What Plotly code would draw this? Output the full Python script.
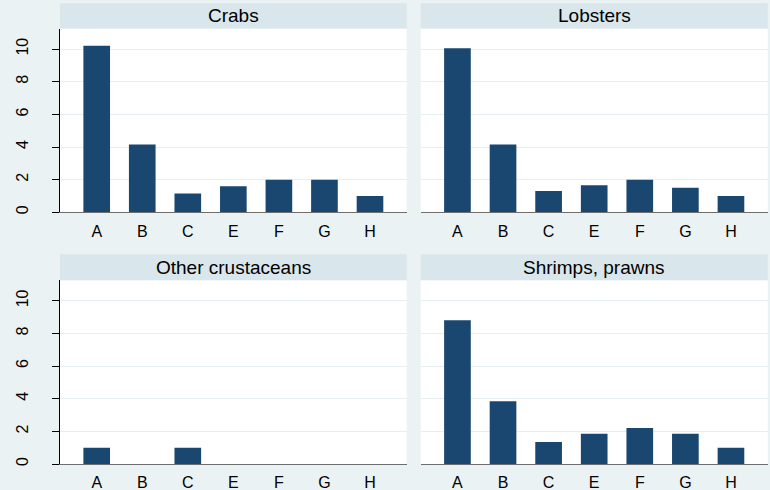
import plotly.graph_objects as go

categories = ["A", "B", "C", "E", "F", "G", "H"]
panel_titles = ["Crabs", "Lobsters", "Other crustaceans", "Shrimps, prawns"]
crabs = [10.2, 4.15, 1.15, 1.6, 2.0, 2.0, 1.0]
lobsters = [10.05, 4.15, 1.3, 1.65, 2.0, 1.5, 1.0]
other_crustaceans = [1.0, 0, 1.0, 0, 0, 0, 0]
shrimps_prawns = [8.8, 3.85, 1.35, 1.85, 2.2, 1.85, 1.0]
y_ticks = [0, 2, 4, 6, 8, 10]

series = [crabs, lobsters, other_crustaceans, shrimps_prawns]

W, H = 770, 490
BAR = "#1A476F"
OUTER = "#EAF2F3"
STRIP = "#D9E6EB"
GRID = "#E6EEF1"
FONT = "Liberation Sans, Arial, sans-serif"

# pixel geometry of the panels
x_dom_px = [(60, 406.7), (420.7, 767.7)]
y_dom_px = [(28.5, 212.3), (280.2, 464.0)]
strip_px = [(3.3, 28.5), (254.3, 280.2)]

fig = go.Figure()
layout = dict(
    width=W, height=H,
    margin=dict(l=0, r=0, t=0, b=0),
    paper_bgcolor=OUTER, plot_bgcolor="white",
    showlegend=False, bargap=0.415,
    font=dict(family=FONT, color="black", size=16),
    shapes=[], annotations=[],
)

for i, vals in enumerate(series):
    r, c = divmod(i, 2)
    n = i + 1
    xa = "x" if n == 1 else f"x{n}"
    ya = "y" if n == 1 else f"y{n}"
    fig.add_trace(go.Bar(x=categories, y=vals, marker=dict(color=BAR, line=dict(width=0)),
                         width=0.585, xaxis=xa, yaxis=ya))
    xd = [x_dom_px[c][0] / W, x_dom_px[c][1] / W]
    yd = [1 - y_dom_px[r][1] / H, 1 - y_dom_px[r][0] / H]
    xkey = "xaxis" if n == 1 else f"xaxis{n}"
    ykey = "yaxis" if n == 1 else f"yaxis{n}"
    layout[xkey] = dict(
        domain=xd, anchor=ya, type="category", range=[-0.806, 6.806],
        showline=True, linecolor="#6E6E6E", linewidth=1.3,
        ticks="", showgrid=False, zeroline=False,
        tickfont=dict(size=16), ticklabelstandoff=4, automargin=False,
    )
    ydict = dict(
        domain=yd, anchor=xa, range=[0, 11.26], tickvals=y_ticks,
        showgrid=True, gridcolor=GRID, gridwidth=1, zeroline=False,
        automargin=False,
    )
    if c == 0:
        ydict.update(showline=True, linecolor="black", linewidth=1,
                     ticks="outside", ticklen=7, tickcolor="black", tickwidth=1,
                     tickangle=-90, tickfont=dict(size=16), ticklabelstandoff=18)
    else:
        ydict.update(showline=False, ticks="", showticklabels=False)
    layout[ykey] = ydict

    sy0 = 1 - strip_px[r][1] / H
    sy1 = 1 - strip_px[r][0] / H
    layout["shapes"].append(dict(type="rect", xref="paper", yref="paper",
                                 x0=xd[0], x1=xd[1], y0=sy0, y1=sy1,
                                 fillcolor=STRIP, line=dict(width=0), layer="below"))
    layout["annotations"].append(dict(text=panel_titles[i], xref="paper", yref="paper",
                                      x=(xd[0] + xd[1]) / 2, y=(sy0 + sy1) / 2,
                                      xanchor="center", yanchor="middle", showarrow=False,
                                      font=dict(size=19, family=FONT, color="black")))

fig.update_layout(**layout)
fig.write_html("out.html", config={"displayModeBar": False},
               post_script="document.body.style.margin='0px';document.body.style.overflow='hidden';")
